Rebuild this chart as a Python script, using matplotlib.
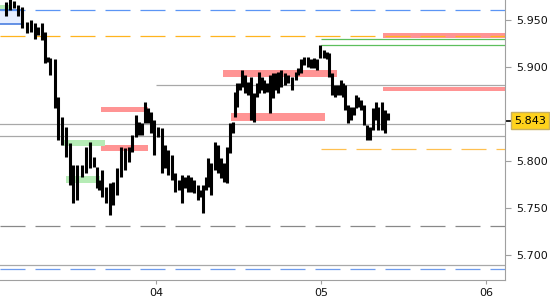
import numpy as np
import matplotlib
matplotlib.use("Agg")
import matplotlib.pyplot as plt
from matplotlib.patches import Rectangle

plt.rcParams['lines.scale_dashes'] = False
plt.rcParams['font.family'] = ['DejaVu Sans']

# Bar data (x axis in days of the month) ---------------------------------
times = [3.091, 3.115, 3.139, 3.164, 3.188, 3.218, 3.242, 3.267, 3.285, 3.309,
         3.327, 3.345, 3.358, 3.388, 3.406, 3.430, 3.455, 3.479, 3.497, 3.521,
         3.551, 3.576, 3.600, 3.624, 3.642, 3.655, 3.673, 3.697, 3.721, 3.739,
         3.764, 3.788, 3.812, 3.836, 3.855, 3.879, 3.897, 3.915, 3.933, 3.952,
         3.970, 3.988, 4.012, 4.036, 4.055, 4.073, 4.097, 4.115, 4.139, 4.158,
         4.176, 4.194, 4.212, 4.230, 4.255, 4.273, 4.285, 4.303, 4.315, 4.333,
         4.358, 4.376, 4.394, 4.412, 4.430, 4.448, 4.467, 4.479, 4.491, 4.509,
         4.521, 4.539, 4.558, 4.576, 4.594, 4.612, 4.624, 4.642, 4.655, 4.673,
         4.691, 4.709, 4.727, 4.739, 4.758, 4.782, 4.800, 4.824, 4.848, 4.861,
         4.879, 4.897, 4.921, 4.939, 4.958, 4.976, 4.994, 5.018, 5.036, 5.048,
         5.067, 5.085, 5.103, 5.121, 5.133, 5.145, 5.164, 5.182, 5.200, 5.212,
         5.224, 5.242, 5.261, 5.279, 5.297, 5.315, 5.333, 5.345, 5.370, 5.388,
         5.406]
highs = [5.969, 5.972, 5.970, 5.966, 5.964, 5.948, 5.950, 5.947, 5.943, 5.947,
         5.937, 5.911, 5.910, 5.909, 5.868, 5.847, 5.836, 5.819, 5.796, 5.796,
         5.796, 5.815, 5.820, 5.804, 5.794, 5.780, 5.790, 5.772, 5.777, 5.778,
         5.793, 5.815, 5.814, 5.815, 5.828, 5.849, 5.842, 5.840, 5.863, 5.856,
         5.852, 5.844, 5.836, 5.835, 5.817, 5.812, 5.806, 5.787, 5.780, 5.785,
         5.783, 5.785, 5.783, 5.780, 5.774, 5.769, 5.774, 5.783, 5.803, 5.798,
         5.820, 5.817, 5.803, 5.798, 5.815, 5.840, 5.842, 5.873, 5.883, 5.883,
         5.897, 5.892, 5.884, 5.889, 5.872, 5.883, 5.895, 5.889, 5.886, 5.883,
         5.892, 5.894, 5.894, 5.895, 5.897, 5.894, 5.892, 5.889, 5.895, 5.899,
         5.908, 5.911, 5.911, 5.908, 5.910, 5.908, 5.923, 5.918, 5.916, 5.915,
         5.894, 5.881, 5.881, 5.886, 5.883, 5.881, 5.860, 5.857, 5.857, 5.870,
         5.868, 5.865, 5.860, 5.838, 5.836, 5.856, 5.863, 5.857, 5.863, 5.854,
         5.851]
lows = [5.954, 5.961, 5.963, 5.954, 5.942, 5.936, 5.937, 5.930, 5.934, 5.929,
        5.904, 5.905, 5.892, 5.856, 5.822, 5.817, 5.804, 5.774, 5.755, 5.758,
        5.783, 5.787, 5.793, 5.794, 5.771, 5.769, 5.762, 5.755, 5.743, 5.753,
        5.764, 5.783, 5.790, 5.799, 5.810, 5.826, 5.828, 5.828, 5.840, 5.840,
        5.830, 5.806, 5.826, 5.787, 5.793, 5.785, 5.780, 5.767, 5.769, 5.755,
        5.771, 5.767, 5.767, 5.766, 5.758, 5.762, 5.745, 5.769, 5.772, 5.764,
        5.790, 5.787, 5.782, 5.778, 5.777, 5.809, 5.830, 5.847, 5.857, 5.876,
        5.879, 5.872, 5.870, 5.844, 5.842, 5.868, 5.872, 5.876, 5.872, 5.873,
        5.851, 5.867, 5.876, 5.872, 5.879, 5.881, 5.883, 5.876, 5.886, 5.892,
        5.894, 5.902, 5.900, 5.899, 5.899, 5.897, 5.910, 5.910, 5.908, 5.889,
        5.870, 5.868, 5.870, 5.870, 5.868, 5.854, 5.840, 5.844, 5.849, 5.856,
        5.857, 5.854, 5.838, 5.822, 5.822, 5.833, 5.844, 5.833, 5.833, 5.830,
        5.844]
last_price = 5.843

# full width horizontal levels: (price, colour, style)
levels = [(5.9606, '#5b95f5', 'dash'), (5.933, '#ffb41e', 'dash'),
          (5.8394, '#a8a8a8', 'solid'), (5.8266, '#a8a8a8', 'solid'),
          (5.7309, '#888888', 'dash'), (5.6894, '#a8a8a8', 'solid'),
          (5.6851, '#6f9cee', 'dash')]
# partial levels: (start day, price, colour, style)
part_levels = [(4.0, 5.8809, '#a8a8a8', 'solid'), (5.0, 5.9293, '#5cbf5c', 'solid'),
               (5.0, 5.9234, '#5cbf5c', 'solid'), (5.0, 5.8128, '#ffc050', 'dash')]
# zones: (start day, end day, low, high, colour)
zones = [(5.376, 6.2, 5.9309, 5.9362, '#ff9494'),
         (5.376, 6.2, 5.8745, 5.8787, '#ff9494'),
         (4.406, 5.097, 5.8894, 5.8968, '#ff9494'),
         (4.4545, 5.0242, 5.8426, 5.8511, '#ff9494'),
         (3.6667, 3.9515, 5.8521, 5.8574, '#ff9494'),
         (3.6667, 3.9515, 5.8106, 5.8170, '#ff9494'),
         (3.4303, 3.691, 5.8160, 5.8223, '#b6ecb6'),
         (3.4545, 3.6606, 5.7770, 5.7840, '#b6ecb6'),
         (3.0, 3.1152, 5.9596, 5.9660, '#b6ecb6')]
box = (3.0, 3.188, 5.9457, 5.9606)

day_ticks = [4, 5, 6]
day_labels = ['04', '05', '06']
price_ticks = [5.70, 5.75, 5.80, 5.90, 5.95]

# Figure -----------------------------------------------------------------
fig = plt.figure(figsize=(5.5, 3), dpi=100)
ax = fig.add_axes([0, 20 / 300, 505 / 550, 280 / 300])
xmin, xmax = 3.05455, 6.11515
ax.set_xlim(xmin, xmax)
ax.set_ylim(5.6734, 5.97128)

dash = (0, (18, 7.2))
for p, c, s in levels:
    ax.axhline(p, color=c, lw=0.9, ls=dash if s == 'dash' else '-', zorder=1)
for d, p, c, s in part_levels:
    ax.hlines(p, d, xmax, color=c, lw=0.9, ls=dash if s == 'dash' else '-', zorder=1)

for d0, d1, lo, hi, c in zones:
    ax.add_patch(Rectangle((d0, lo), d1 - d0, hi - lo, color=c, lw=0, zorder=0.5))
ax.add_patch(Rectangle((box[0], box[2]), box[1] - box[0], box[3] - box[2],
                       fc='#e6eeff', ec='#4a7fe0', lw=1.2, zorder=0.6))

ax.vlines(times, lows, highs, color='black', lw=2.2, zorder=3)

# axes look
for s in ['top', 'left']:
    ax.spines[s].set_visible(False)
for s in ['right', 'bottom']:
    ax.spines[s].set_color('#a0a0a0')
ax.yaxis.tick_right()
ax.set_yticks(price_ticks)
ax.set_yticklabels(['%.3f' % v for v in price_ticks])
ax.set_xticks(day_ticks)
ax.set_xticklabels(day_labels)
ax.tick_params(axis='y', length=4, color='#a0a0a0', pad=4, labelsize=8, labelcolor='#111111')
ax.tick_params(axis='x', length=3, color='#a0a0a0', pad=3, labelsize=8, labelcolor='#111111')

# current price marker
tr = ax.get_yaxis_transform()
ax.plot([1.002, 1.012], [last_price, last_price], color='black', lw=1.2,
        transform=tr, clip_on=False)
ax.text(1.0 + 9 / 505, last_price, '%.3f' % last_price, transform=tr,
        ha='left', va='center', fontsize=8, color='black',
        bbox=dict(boxstyle='square,pad=0.3', fc='#ffd21c', ec='#c8b060', lw=1),
        zorder=10)

fig.savefig('out.png', dpi=100)
